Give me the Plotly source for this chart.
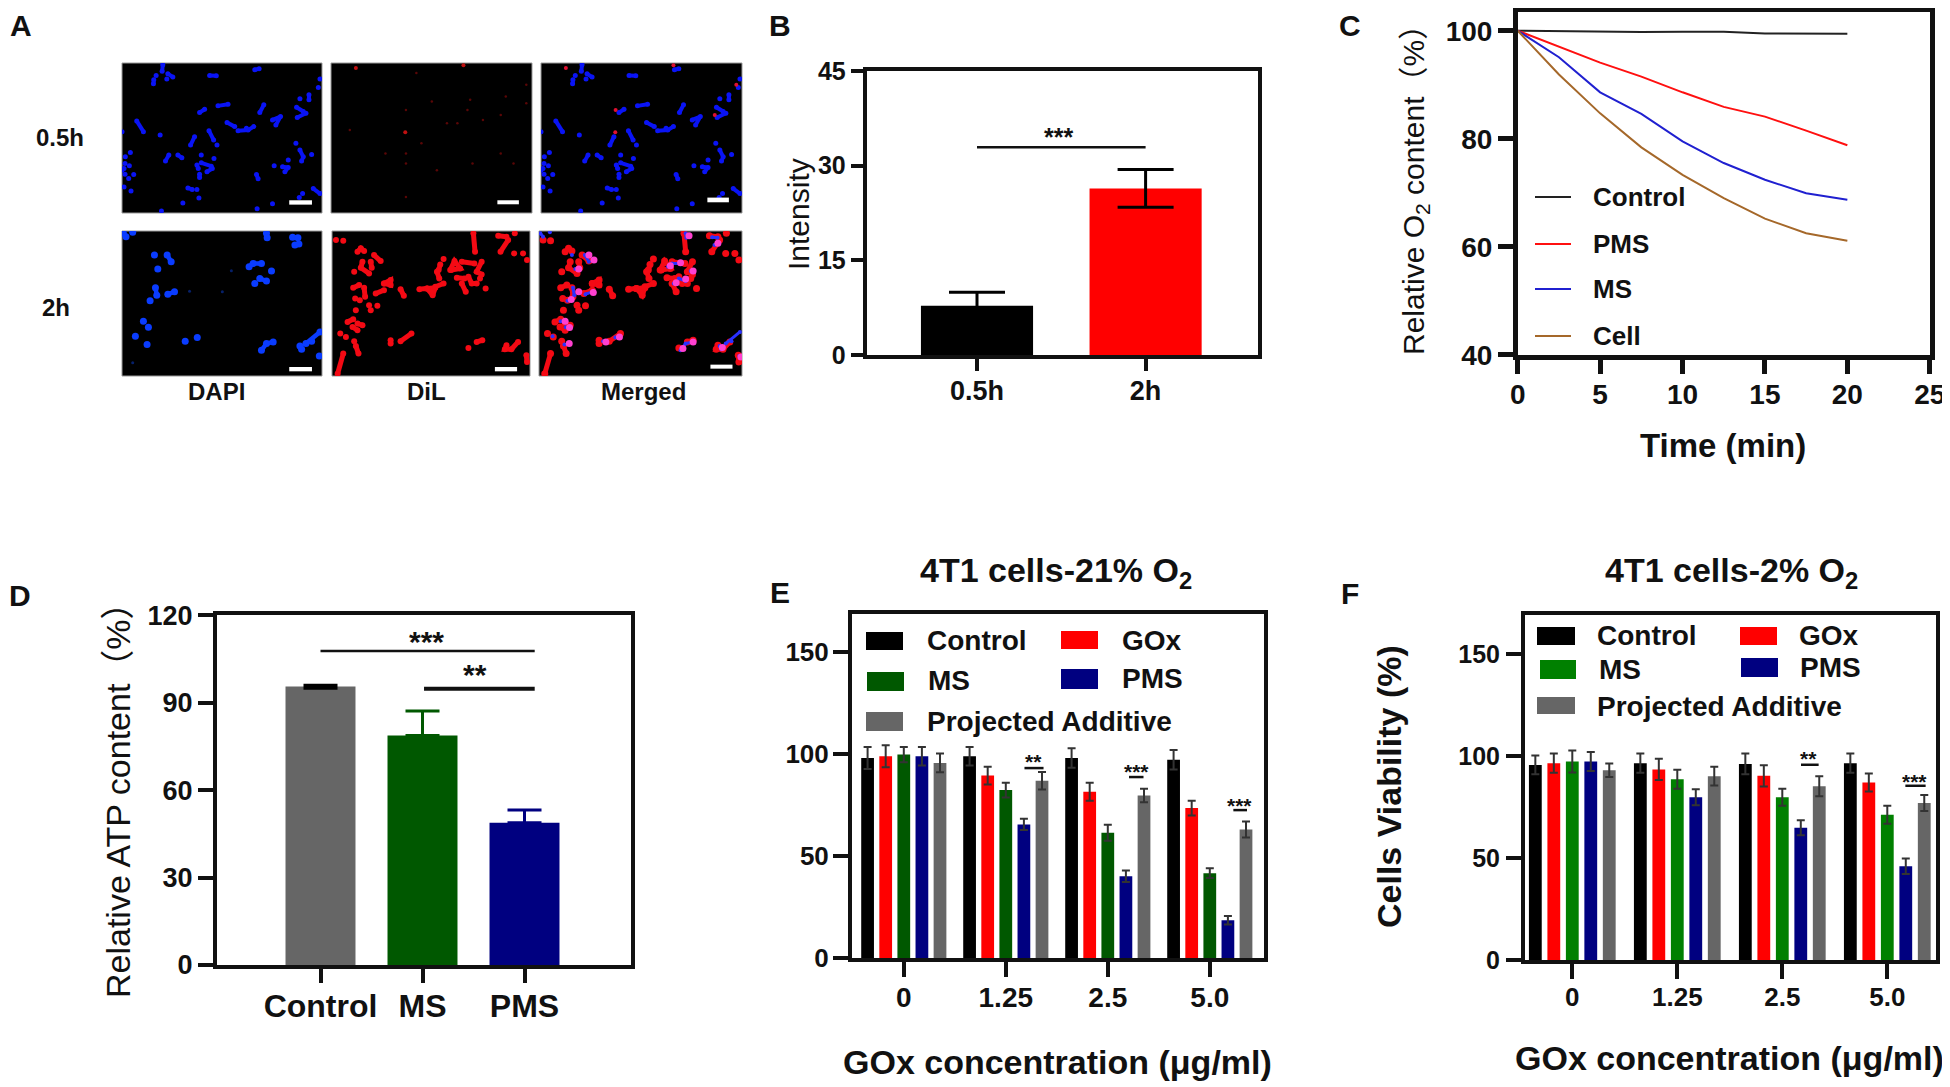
"""Composite figure: uptake images, intensity, O2 content, ATP content, viability.
"""

import plotly.graph_objects as go

W, H = 1950, 1087
PAD = 8  # page body margin in front of the figure
FW, FH = W - PAD, H - PAD
FONT = "Liberation Sans, Noto Sans CJK SC, Arial"

# Panel A - cell outlines (image pixels at 3x)
dapi_05h = [
    [(130,15),(128,35)], [(110,47)], [(145,42),(160,52)], [(142,58)], [(103,60),(102,72)],
    [(270,47),(290,48)], [(405,30),(418,27)], [(600,58)], [(595,83)], [(295,138),(325,133)],
    [(240,158),(255,148)], [(420,158),(432,135)], [(540,117)], [(567,105),(567,120)],
    [(530,142),(550,155)], [(532,173),(558,160)], [(458,180),(482,170),(468,195)],
    [(52,183),(72,215)], [(8,215)], [(122,225)], [(322,188),(345,200)],
    [(355,212),(385,210),(402,200)], [(380,205)], [(268,212),(282,240)], [(225,230),(213,255)],
    [(292,255)], [(528,250)], [(540,270),(550,290),(545,303)], [(575,283)], [(33,277)], [(18,290)],
    [(175,285),(187,293)], [(138,303),(148,285)], [(283,295)], [(245,285)], [(245,308),(275,318)],
    [(232,315),(236,325)], [(240,342),(240,352)], [(262,335),(278,325)], [(17,310)], [(30,317)],
    [(14,325)], [(17,342)], [(43,343)], [(28,355)], [(14,380)], [(35,392)], [(205,383),(218,388)],
    [(232,388)], [(238,413)], [(190,428)], [(410,343),(415,356)], [(463,317)],
    [(488,320),(505,322),(495,335)], [(505,300)], [(600,400),(580,385)], [(548,400)], [(538,412)],
    [(458,430)], [(412,445)], [(126,452)], [(8,330)],
]
dil_05h_bright = [(82,25), (402,17), (229,217)]
dil_05h_dim = [
    (308,125), (414,150), (422,120), (231,150), (460,180), (513,165), (528,110), (589,75), (353,190),
    (384,190), (277,250), (231,280), (170,280), (513,280), (551,310), (429,310), (231,310), (323,330),
    (231,410), (64,210), (262,40), (589,130),
]
merged_05h_red = [(82,25), (402,17), (229,217), (589,75), (230,150), (525,165)]

dapi_2h = [
    [(12,15),(20,25)], [(40,12)], [(440,15),(442,28)], [(518,27),(534,28)], [(525,50),(537,47)],
    [(105,80)], [(143,80),(155,100)], [(115,122)], [(388,115),(400,105),(425,105)], [(455,128)],
    [(420,150),(440,158)], [(405,165)], [(108,178),(112,200)], [(145,197),(165,190)], [(92,217)],
    [(72,278)], [(87,296)], [(48,323)], [(83,348)], [(197,338)], [(233,327)],
    [(425,365),(440,345),(460,340)], [(540,352),(545,362)], [(575,338)], [(558,345),(600,310)],
    [(598,382)],
]
dapi_2h_dim = [(40,402), (210,188), (308,190), (335,127)]
dil_2h = [
    [(20,35)], [(42,37)], [(435,15),(440,70)], [(510,22),(535,25)], [(540,35),(517,70)], [(560,15)],
    [(558,75)], [(585,75)], [(597,95)], [(85,70),(95,60),(105,68)], [(135,80),(155,98)],
    [(100,100),(95,118),(120,135)], [(125,100),(128,118)], [(75,130)], [(345,92)],
    [(335,108),(330,125)], [(325,130),(332,150)], [(365,125),(378,98),(395,120),(368,125)],
    [(400,100),(438,105)], [(460,100),(445,130),(460,138)], [(385,148),(408,150)],
    [(400,165),(412,190)], [(420,145),(430,165),(445,165)], [(455,150)], [(472,180)],
    [(165,165),(185,155),(185,170),(165,165)], [(72,178),(90,170)], [(105,178),(108,205)],
    [(140,195),(165,185)], [(215,182),(225,202)], [(272,182),(295,180),(312,200),(320,178),(295,180)],
    [(320,175),(345,165)], [(78,210)], [(92,215)], [(80,245)], [(120,230)], [(145,232)], [(125,245)],
    [(55,280),(72,272)], [(85,285),(100,290)], [(70,295),(85,305)], [(33,315)], [(50,325)],
    [(185,335),(185,345)], [(215,338),(248,315)], [(75,338)], [(80,352),(88,375)], [(42,375),(25,435)],
    [(420,358)], [(445,340),(462,335)], [(535,350),(530,362),(550,362),(570,340)], [(595,380),(597,400)],
]
merged_2h_pink = [
    (155,80), (170,95), (125,122), (168,192), (125,190), (103,213), (85,278), (98,297), (97,345),
    (245,325), (205,340), (462,340), (432,360), (395,112), (425,103), (440,152), (412,163), (462,128),
    (450,22), (535,45), (603,385), (548,357),
]

# Panel B
b_labels = ["0.5h", "2h"]
b_values = [7.85, 26.4]
b_errors = [2.1, 3.0]

# Panel C
c_time = [0, 2.5, 5, 7.5, 10, 12.5, 15, 17.5, 20]
c_control = [100, 99.9, 99.8, 99.75, 99.8, 99.8, 99.5, 99.5, 99.45]
c_pms = [100, 97, 94.1, 91.5, 88.6, 85.9, 84.1, 81.5, 78.8]
c_ms = [100, 95.1, 88.6, 84.6, 79.5, 75.5, 72.4, 69.9, 68.7]
c_cell = [100, 91.9, 84.7, 78.4, 73.3, 69, 65.2, 62.5, 61.1]

# Panel D
d_labels = ["Control", "MS", "PMS"]
d_values = [95.5, 78.7, 48.8]
d_errors_up = [0.5, 8.4, 4.4]
d_errors_down = [0.6, 0, 0]

# Panels E and F
gox_labels = ["0", "1.25", "2.5", "5.0"]
series_names = ["Control", "GOx", "MS", "PMS", "Projected Additive"]
e_values = [
    [98, 98.9, 98, 97.2],
    [98.9, 89.4, 81.5, 73.5],
    [99.7, 82.3, 61.4, 41.6],
    [98.9, 65.5, 40.1, 18.5],
    [95.6, 86.9, 79.7, 63],
]
e_errors = [
    [5.4, 4.5, 4.8, 4.8],
    [5.4, 4.4, 4.4, 3.6],
    [3.7, 3.6, 3.9, 2.4],
    [4.5, 2.7, 2.8, 2.1],
    [4.6, 4.3, 3.3, 3.9],
]
f_values = [
    [95.6, 96.5, 96.1, 96.5],
    [96.5, 93.4, 90.3, 87],
    [97.3, 88.6, 79.8, 71.2],
    [97.3, 79.8, 64.8, 46],
    [93, 90.1, 85.2, 77],
]
f_errors = [
    [4.6, 4.7, 5.1, 4.7],
    [4.7, 5.2, 5.2, 4.4],
    [5.4, 4.6, 4.2, 4.4],
    [4.7, 3.9, 3.7, 3.8],
    [3.3, 4.6, 4.9, 3.9],
]

fig = go.Figure()
layout = {}
annotations = []
shapes = []


def px(x):
    return (x - PAD) / FW


def py(y):
    return 1 - (y - PAD) / FH


def note(text, x, y, size, bold=False, anchor="center", angle=0):
    # text placed by page pixel
    annotations.append(dict(
        text="<b>%s</b>" % text if bold else text, x=px(x), y=py(y), xref="paper", yref="paper",
        showarrow=False, xanchor=anchor, yanchor="middle", textangle=angle,
        font=dict(family=FONT, size=size, color="#111111"),
    ))


def swatch(x0, x1, y0, y1, color):
    shapes.append(dict(type="rect", xref="paper", yref="paper", x0=px(x0), x1=px(x1),
                       y0=py(y1), y1=py(y0), fillcolor=color, line=dict(width=0)))


def sig(n, x0, x1, y, label, xlabel, up, size, lw=2.5):
    shapes.append(dict(type="line", xref="x%d" % n, yref="y%d" % n, x0=x0, x1=x1, y0=y, y1=y,
                       line=dict(color="#111111", width=lw)))
    annotations.append(dict(text="<b>%s</b>" % label, x=xlabel, y=y, xref="x%d" % n, yref="y%d" % n,
                            showarrow=False, yanchor="middle", yshift=up - 0.2 * size,
                            font=dict(family=FONT, size=size, color="#111111")))


def chart_axes(n, left, right, top, bottom, x0_px, x_unit, y_base, y_unit, lw, ticks,
               tick_size, x_tick_size, x_standoff, y_standoff, xtick=None, xlen=14, ylen=15):
    # left/right/top/bottom are spine centres in page pixels
    xr = [(left + lw / 2 - x0_px) / x_unit, (right - lw / 2 - x0_px) / x_unit]
    yr = [y_base, y_base + (bottom - top - lw) / y_unit]
    base = dict(showgrid=False, zeroline=False, showline=True, mirror=True, linecolor="#111111",
                linewidth=lw, ticks="outside", tickcolor="#111111", tickwidth=lw, automargin=False)
    layout["xaxis%d" % n] = dict(
        base, domain=[px(left + lw / 2), px(right - lw / 2)], range=xr, anchor="y%d" % n, ticklen=xlen,
        tickvals=xtick, ticklabelstandoff=x_standoff,
        tickfont=dict(family=FONT, size=x_tick_size, weight=700, color="#111111"))
    layout["yaxis%d" % n] = dict(
        base, domain=[py(bottom - lw / 2), py(top + lw / 2)], range=yr, anchor="x%d" % n,
        tickvals=ticks, ticklen=ylen, ticklabelstandoff=y_standoff,
        tickfont=dict(family=FONT, size=tick_size, weight=700, color="#111111"))


def split(cells):
    xs, ys = [], []
    for cell in cells:
        xs += [p[0] for p in cell] + [None]
        ys += [p[1] for p in cell] + [None]
    return xs, ys


def image_axes(n, left, right, top, bottom, yr, bar):
    plain = dict(showticklabels=False, ticks="", showgrid=False, zeroline=False, showline=False, automargin=False)
    layout["xaxis%d" % n] = dict(plain, domain=[px(left), px(right)], range=[8, 606], anchor="y%d" % n)
    layout["yaxis%d" % n] = dict(plain, domain=[py(bottom), py(top)], range=yr, anchor="x%d" % n)
    shapes.append(dict(type="rect", xref="paper", yref="paper", x0=px(left), x1=px(right), y0=py(bottom),
                       y1=py(top), fillcolor="black", line=dict(color="#999999", width=1), layer="below"))
    shapes.append(dict(type="rect", xref="x%d" % n, yref="y%d" % n, x0=bar[0], x1=bar[1], y0=bar[2], y1=bar[3],
                       fillcolor="white", line=dict(width=0)))


def add_cells(n, cells, color, width=4, size=6):
    xs, ys = split(cells)
    fig.add_trace(go.Scatter(x=xs, y=ys, mode="lines+markers", xaxis="x%d" % n, yaxis="y%d" % n,
                             line=dict(color=color, width=width), marker=dict(color=color, size=size),
                             connectgaps=False, showlegend=False))


def add_spots(n, spots, color, size=3):
    fig.add_trace(go.Scatter(x=[p[0] for p in spots], y=[p[1] for p in spots], mode="markers",
                             xaxis="x%d" % n, yaxis="y%d" % n, marker=dict(color=color, size=size),
                             showlegend=False))


# Panel A
row1, row2 = [458, 10], [442, 8]
image_axes(1, 122, 322, 63, 213, row1, (508, 576, 420, 433))
image_axes(2, 331, 532, 63, 213, row1, (503, 567, 420, 432))
image_axes(3, 541, 742, 63, 213, row1, (503, 567, 412, 426))
image_axes(4, 122, 322, 231, 376, row2, (508, 576, 415, 428))
image_axes(5, 332, 530, 231, 376, row2, (500, 567, 415, 428))
image_axes(6, 539, 742, 231, 376, row2, (513, 578, 408, 420))

add_cells(1, dapi_05h, "#0a14f5", 4, 5)
add_spots(2, dil_05h_dim, "#5a0606", 2.5)
add_spots(2, dil_05h_bright, "#c01010", 4)
add_cells(3, dapi_05h, "#0a14f5", 4, 5)
add_spots(3, merged_05h_red, "#e01030", 4)
add_spots(4, dapi_2h_dim, "#06206a", 3)
add_cells(4, dapi_2h, "#0a3cff", 4.5, 7)
add_cells(5, dil_2h, "#f40a14", 5, 6)
add_cells(6, dil_2h, "#f40a14", 5, 7)
add_cells(6, dapi_2h, "#2a30ff", 3, 4)
add_spots(6, merged_2h_pink, "#ff40d0", 7)

note("0.5h", 60, 138, 24, bold=True)
note("2h", 56, 307, 24, bold=True)
note("DAPI", 216, 392, 24, bold=True)
note("DiL", 426, 392, 24, bold=True)
note("Merged", 643, 392, 24, bold=True)

# Panel B
fig.add_trace(go.Bar(x=b_labels, y=b_values, width=0.665, marker=dict(color=["#000000", "#ff0000"], line=dict(width=0)),
                     error_y=dict(type="data", array=b_errors, color="#000000", thickness=3, width=28),
                     xaxis="x7", yaxis="y7", showlegend=False))
chart_axes(7, 865.7, 1260, 69, 357, 977, 168.6, 0, 6.32, 3.5, [0, 15, 30, 45], 25, 27, -3, 0, xlen=12, ylen=13)
layout["xaxis7"]["type"] = "category"
sig(7, 0, 1, 32.9, "***", 0.486, 15, 25)
note("Intensity", 798, 214, 30, angle=-90)

# Panel C
c_series = [("Control", c_control, "#222222", 197), ("PMS", c_pms, "#ff1010", 244),
            ("MS", c_ms, "#2020d0", 289), ("Cell", c_cell, "#a5682a", 336)]
for name, values, color, ly in c_series:
    fig.add_trace(go.Scatter(x=c_time, y=values, mode="lines", name=name, line=dict(color=color, width=2),
                             xaxis="x8", yaxis="y8", showlegend=False))
    shapes.append(dict(type="line", xref="paper", yref="paper", x0=px(1535), x1=px(1571), y0=py(ly), y1=py(ly),
                       line=dict(color=color, width=2)))
    note(name, 1591, ly, 26, bold=True, anchor="left")
chart_axes(8, 1515.5, 1932.25, 10, 357, 1517.75, 16.48, 40, 5.4, 4.5, [40, 60, 80, 100], 28, 28, -3, 0,
           xtick=[0, 5, 10, 15, 20, 25])
note("Relative O<sub>2</sub> content（%）", 1415, 183, 30, angle=-90)
note("Time (min)", 1723, 445, 33, bold=True)

# Panel D
d_colors = ["#666666", "#005800", "#000080"]
d_error_colors = ["#000000", "#005800", "#000080"]
for i, label in enumerate(d_labels):
    fig.add_trace(go.Bar(x=[label], y=[d_values[i]], width=0.686, marker=dict(color=d_colors[i], line=dict(width=0)),
                         error_y=dict(type="data", array=[d_errors_up[i]], arrayminus=[d_errors_down[i]],
                                      color=d_error_colors[i], thickness=3, width=17),
                         xaxis="x9", yaxis="y9", showlegend=False))
chart_axes(9, 215, 633, 613, 967, 320.5, 102, 0, 2.915, 4, [0, 30, 60, 90, 120], 27, 32, -4, 0, xlen=14, ylen=15)
layout["xaxis9"]["type"] = "category"
layout["xaxis9"]["categoryorder"] = "array"
layout["xaxis9"]["categoryarray"] = d_labels
sig(9, 0, 2.1, 107.7, "***", 1.044, 16, 30)
sig(9, 1.015, 2.1, 94.8, "**", 1.515, 20, 30, lw=4)
note("Relative ATP content（%）", 118, 792, 34, angle=-90)

# Panels E and F
e_colors = ["#000000", "#ff0000", "#005800", "#000080", "#666666"]
f_colors = ["#000000", "#ff0000", "#008000", "#000080", "#666666"]


def group_bars(n, values, errors, colors, pitch, width):
    for i, name in enumerate(series_names):
        fig.add_trace(go.Bar(x=gox_labels, y=values[i], name=name, width=width, offset=(i - 2) * pitch - width / 2,
                             marker=dict(color=colors[i], line=dict(width=0)),
                             error_y=dict(type="data", array=errors[i], color="#333333", thickness=2, width=4),
                             xaxis="x%d" % n, yaxis="y%d" % n, showlegend=False))


group_bars(10, e_values, e_errors, e_colors, 0.1775, 0.125)
chart_axes(10, 850, 1266, 612, 960, 903.8, 102, 0, 2.04, 4, [0, 50, 100, 150], 26, 28, -4, -1, xlen=15, ylen=15)
layout["xaxis10"]["type"] = "category"
sig(10, 1.183, 1.37, 93.1, "**", 1.27, 11, 21)
sig(10, 2.208, 2.35, 88.7, "***", 2.28, 10, 21)
sig(10, 3.231, 3.365, 72.5, "***", 3.296, 9, 21)
note("4T1 cells-21% O<sub>2</sub>", 1056, 572, 34, bold=True)
note("GOx concentration (μg/ml)", 1057, 1062, 34, bold=True)
for (x0, x1, y0, y1, c) in [(866, 903, 632, 650, e_colors[0]), (1061, 1098, 631, 649, e_colors[1]),
                            (867, 904, 672, 691, e_colors[2]), (1061, 1098, 669, 689, e_colors[3]),
                            (866, 903, 712, 731, e_colors[4])]:
    swatch(x0, x1, y0, y1, c)
note("Control", 925, 640, 28, bold=True, anchor="left")
note("GOx", 1120, 640, 28, bold=True, anchor="left")
note("MS", 926, 680, 28, bold=True, anchor="left")
note("PMS", 1120, 678, 28, bold=True, anchor="left")
note("Projected Additive", 925, 721, 28, bold=True, anchor="left")

group_bars(11, f_values, f_errors, f_colors, 0.176, 0.122)
chart_axes(11, 1523, 1938, 613, 962, 1572.3, 105, 0, 2.04, 4, [0, 50, 100, 150], 25, 26, -4, 1, xlen=15, ylen=15)
layout["xaxis11"]["type"] = "category"
sig(11, 2.178, 2.346, 95.7, "**", 2.254, 10, 21)
sig(11, 3.172, 3.365, 85.4, "***", 3.26, 8, 21)
note("4T1 cells-2% O<sub>2</sub>", 1731, 572, 34, bold=True)
note("GOx concentration (μg/ml)", 1729, 1058, 34, bold=True)
note("Cells Viability (%)", 1389, 787, 34, bold=True, angle=-90)
for (x0, x1, y0, y1, c) in [(1537, 1575, 627, 645, f_colors[0]), (1740, 1777, 627, 645, f_colors[1]),
                            (1540, 1576, 660, 679, f_colors[2]), (1741, 1778, 658, 677, f_colors[3]),
                            (1537, 1575, 697, 714, f_colors[4])]:
    swatch(x0, x1, y0, y1, c)
note("Control", 1595, 635, 28, bold=True, anchor="left")
note("GOx", 1797, 635, 28, bold=True, anchor="left")
note("MS", 1597, 669, 28, bold=True, anchor="left")
note("PMS", 1798, 667, 28, bold=True, anchor="left")
note("Projected Additive", 1595, 706, 28, bold=True, anchor="left")

# Panel letters
for letter, lx, ly in [("A", 21, 26), ("B", 780, 26), ("C", 1350, 26), ("D", 20, 595), ("E", 780, 592), ("F", 1350, 593)]:
    note(letter, lx, ly, 30, bold=True)

fig.update_layout(width=FW, height=FH, margin=dict(l=0, r=0, t=0, b=0), paper_bgcolor="white", plot_bgcolor="white",
                  barmode="overlay", annotations=annotations, shapes=shapes, **layout)
fig.write_html("out.html")
